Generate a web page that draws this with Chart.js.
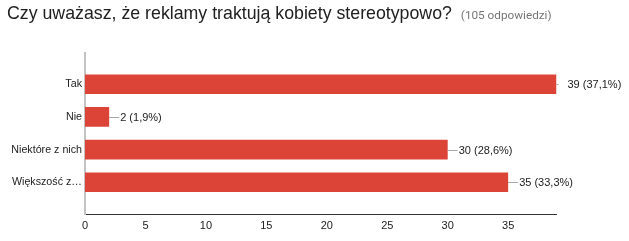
<!DOCTYPE html>
<html>
<head>
<meta charset="utf-8">
<script src="https://cdn.jsdelivr.net/npm/chart.js@4/dist/chart.umd.min.js"></script>
<style>
  html, body { margin: 0; padding: 0; background: #fff; }
  #wrap { position: relative; width: 629px; height: 241px; }
  #title { position: absolute; left: 7px; top: 4px; font-family: "Liberation Sans", Arial, sans-serif; font-size: 17.75px; line-height: 18px; color: #212121; white-space: nowrap; }
  #title span { font-family: Roboto, "Liberation Sans", sans-serif; font-size: 11.75px; color: #757575; margin-left: 4px; }
  canvas { position: absolute; left: 0; top: 0; }
</style>
</head>
<body>
<div id="wrap">
  <canvas id="c" width="629" height="241"></canvas>
  <div id="title">Czy uważasz, że reklamy traktują kobiety stereotypowo? <span>(105 odpowiedzi)</span></div>
</div>
<script>
const categories = ["Tak", "Nie", "Niektóre z nich", "Większość z…"];
const counts = [39, 2, 30, 35];
const percents = ["37,1%", "1,9%", "28,6%", "33,3%"];
const xTicks = [0, 5, 10, 15, 20, 25, 30, 35];
const Y_MIN = -0.965, Y_MAX = 3.97;

const FONT = "'Liberation Sans', Arial, sans-serif";

const labelPlugin = {
  id: 'valueLabels',
  afterDatasetsDraw(chart) {
    const ctx = chart.ctx;
    const meta = chart.getDatasetMeta(0);
    const area = chart.chartArea;
    ctx.save();
    meta.data.forEach((bar, i) => {
      const xEnd = bar.x;
      const y = bar.y;
      ctx.save();
      ctx.beginPath();
      ctx.rect(area.left, 0, area.right + 2 - area.left, chart.height);
      ctx.clip();
      ctx.strokeStyle = '#a8a8a8';
      ctx.lineWidth = 1;
      ctx.beginPath();
      ctx.moveTo(xEnd, Math.round(y) + 0.5);
      ctx.lineTo(xEnd + 10, Math.round(y) + 0.5);
      ctx.stroke();
      ctx.restore();
      ctx.fillStyle = '#222';
      ctx.font = '11px ' + FONT;
      ctx.textAlign = 'left';
      ctx.textBaseline = 'middle';
      ctx.fillText(counts[i] + ' (' + percents[i] + ')', xEnd + 11, y + 1);
    });
    ctx.restore();
  }
};

new Chart(document.getElementById('c'), {
  type: 'bar',
  data: {
    datasets: [{
      data: counts.map((v, i) => ({ x: v, y: i })),
      backgroundColor: '#db4437',
      borderWidth: 0,
      categoryPercentage: 0.8,
      barPercentage: 0.75
    }]
  },
  options: {
    indexAxis: 'y',
    responsive: false,
    animation: false,
    layout: { padding: { left: 0, right: 72.5, top: 52.7, bottom: 0 } },
    plugins: { legend: { display: false }, tooltip: { enabled: false }, title: { display: false } },
    scales: {
      x: {
        type: 'linear',
        min: 0,
        max: 39,
        afterBuildTicks(scale) { scale.ticks = xTicks.map(v => ({ value: v })); },
        afterFit(scale) { scale.height = 27; },
        grid: { display: false, drawTicks: false },
        border: { display: true, color: '#333', width: 1 },
        ticks: { padding: 5, color: '#222', font: { family: FONT, size: 11 } }
      },
      y: {
        type: 'linear',
        reverse: true,
        offset: false,
        min: Y_MIN,
        max: Y_MAX,
        afterBuildTicks(scale) {
          scale.ticks = categories.map((c, i) => ({ value: i }));
          scale.min = Y_MIN; scale.max = Y_MAX;
        },
        afterFit(scale) { scale.width = 85; },
        grid: { display: false, drawTicks: false, offset: false },
        border: { display: true, color: '#c2c2c2', width: 2 },
        ticks: {
          padding: 3,
          color: '#222',
          font: { family: FONT, size: 10.7 },
          callback: (v) => categories[v]
        }
      }
    }
  },
  plugins: [labelPlugin]
});
</script>
</body>
</html>
